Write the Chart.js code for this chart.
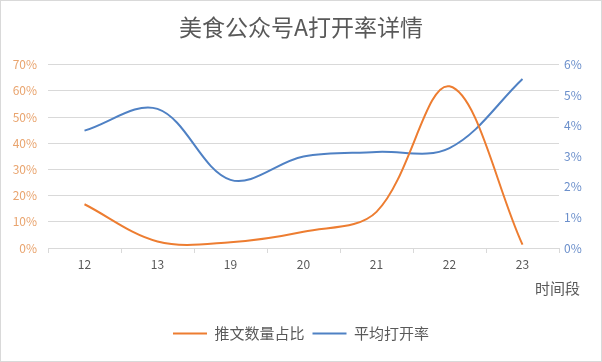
<!DOCTYPE html>
<html>
<head>
<meta charset="utf-8">
<script src="https://cdn.jsdelivr.net/npm/chart.js@4.4.0/dist/chart.umd.min.js"></script>
<style>
html, body { margin: 0; padding: 0; background: #fff; }
</style>
</head>
<body>
<canvas id="chart" width="602" height="362"></canvas>
<script>
// 数据
const hours = ['12', '13', '19', '20', '21', '22', '23'];
const tweetShare = [16.7, 2.5, 2.2, 6.2, 13.8, 61.7, 1.3];   // 推文数量占比 (%)
const openRate = [3.84, 4.55, 2.23, 2.99, 3.14, 3.27, 5.53]; // 平均打开率 (%)
const xTitle = '时间段';

const FONT = '"Noto Sans CJK SC", "Microsoft YaHei", sans-serif';

// 外边框 + x轴标题
const extrasPlugin = {
    id: 'extras',
    afterDraw(chart) {
        const ctx = chart.ctx;
        ctx.save();
        ctx.strokeStyle = '#d9d9d9';
        ctx.lineWidth = 1;
        ctx.strokeRect(0.5, 0.5, chart.width - 1, chart.height - 1);
        ctx.fillStyle = '#595959';
        ctx.font = '15px ' + FONT;
        ctx.textAlign = 'right';
        ctx.textBaseline = 'middle';
        ctx.fillText(xTitle, 580, 288);
        ctx.restore();
    }
};

const ctx = document.getElementById('chart').getContext('2d');
new Chart(ctx, {
    type: 'line',
    data: {
        labels: hours,
        datasets: [
            {
                label: '推文数量占比',
                data: tweetShare,
                yAxisID: 'y',
                borderColor: '#ED7D31',
                backgroundColor: '#ED7D31',
                borderWidth: 2,
                pointRadius: 0,
                tension: 0.35,
                fill: false
            },
            {
                label: '平均打开率',
                data: openRate,
                yAxisID: 'y1',
                borderColor: '#4F81C4',
                backgroundColor: '#4F81C4',
                borderWidth: 2,
                pointRadius: 0,
                tension: 0.35,
                fill: false
            }
        ]
    },
    options: {
        responsive: false,
        animation: false,
        layout: { padding: { left: 0, right: 0, top: 0, bottom: 11 } },
        plugins: {
            title: {
                display: true,
                text: '美食公众号A打开率详情',
                color: '#595959',
                font: { family: FONT, size: 23, weight: 'normal' },
                padding: { top: 13, bottom: 24 }
            },
            legend: {
                position: 'bottom',
                labels: {
                    usePointStyle: true,
                    pointStyle: 'line',
                    pointStyleWidth: 34,
                    color: '#595959',
                    font: { family: FONT, size: 15 },
                    padding: 8
                }
            },
            tooltip: { enabled: false }
        },
        scales: {
            x: {
                offset: true,
                grid: {
                    offset: true,
                    drawOnChartArea: false,
                    drawTicks: true,
                    tickLength: 5,
                    color: '#d9d9d9'
                },
                border: { color: '#d9d9d9' },
                ticks: {
                    color: '#595959',
                    font: { family: FONT, size: 12 },
                    padding: 4
                },
                afterFit: scale => { scale.height = 70; }
            },
            y: {
                position: 'left',
                min: 0,
                max: 70,
                ticks: {
                    stepSize: 10,
                    color: '#E9A46E',
                    font: { family: FONT, size: 12 },
                    padding: 11,
                    callback: v => v + '%'
                },
                grid: { color: '#d9d9d9', drawTicks: false },
                border: { display: false },
                afterFit: scale => { scale.width = 48; }
            },
            y1: {
                position: 'right',
                min: 0,
                max: 6,
                ticks: {
                    stepSize: 1,
                    color: '#6B8FCB',
                    font: { family: FONT, size: 12 },
                    padding: 5,
                    callback: v => v + '%'
                },
                grid: { drawOnChartArea: false, drawTicks: false },
                border: { display: false },
                afterFit: scale => { scale.width = 43; }
            }
        }
    },
    plugins: [extrasPlugin]
});
</script>
</body>
</html>
